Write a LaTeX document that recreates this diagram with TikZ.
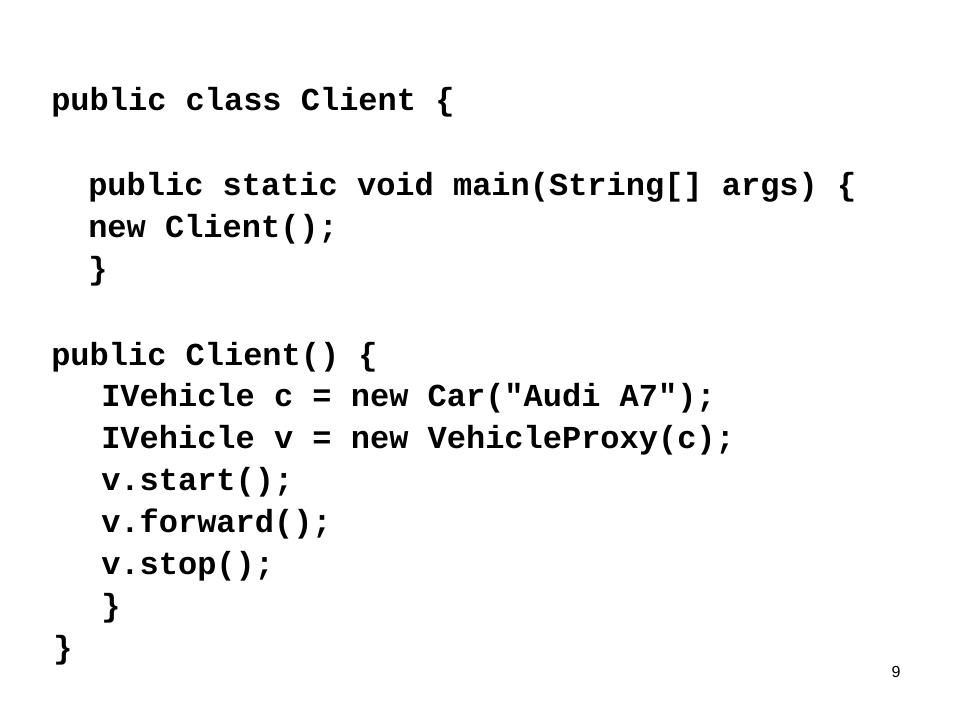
\documentclass[tikz,border=0pt]{standalone}
\usepackage{fontspec}
\setmainfont{Liberation Sans}
\newfontfamily\codefont{Liberation Mono}
\begin{document}
\begin{tikzpicture}[x=0.75pt,y=-0.75pt,
  code/.style={anchor=west,inner sep=0pt,font=\codefont\bfseries\fontsize{24}{24}\selectfont}]
\useasboundingbox (0,0) rectangle (960,720);
\node[code] (l1) at (51,102) {public class Client \{};
\node[code] (l2) at (88,187) {public static void main(String[] args) \{};
\node[code] (l3) at (88,229) {new Client();};
\node[code] (l4) at (88,271) {\}};
\node[code] (l5) at (51,357) {public Client() \{};
\node[code] (l6) at (101,398) {IVehicle c = new Car("Audi A7");};
\node[code] (l7) at (101,440) {IVehicle v = new VehicleProxy(c);};
\node[code] (l8) at (101,482) {v.start();};
\node[code] (l9) at (101,524) {v.forward();};
\node[code] (l10) at (101,566) {v.stop();};
\node[code] (l11) at (101,608) {\}};
\node[code] (l12) at (53,650) {\}};
\node[font=\fontsize{12}{12}\selectfont] (pg) at (896,672) {9};
\end{tikzpicture}
\end{document}
